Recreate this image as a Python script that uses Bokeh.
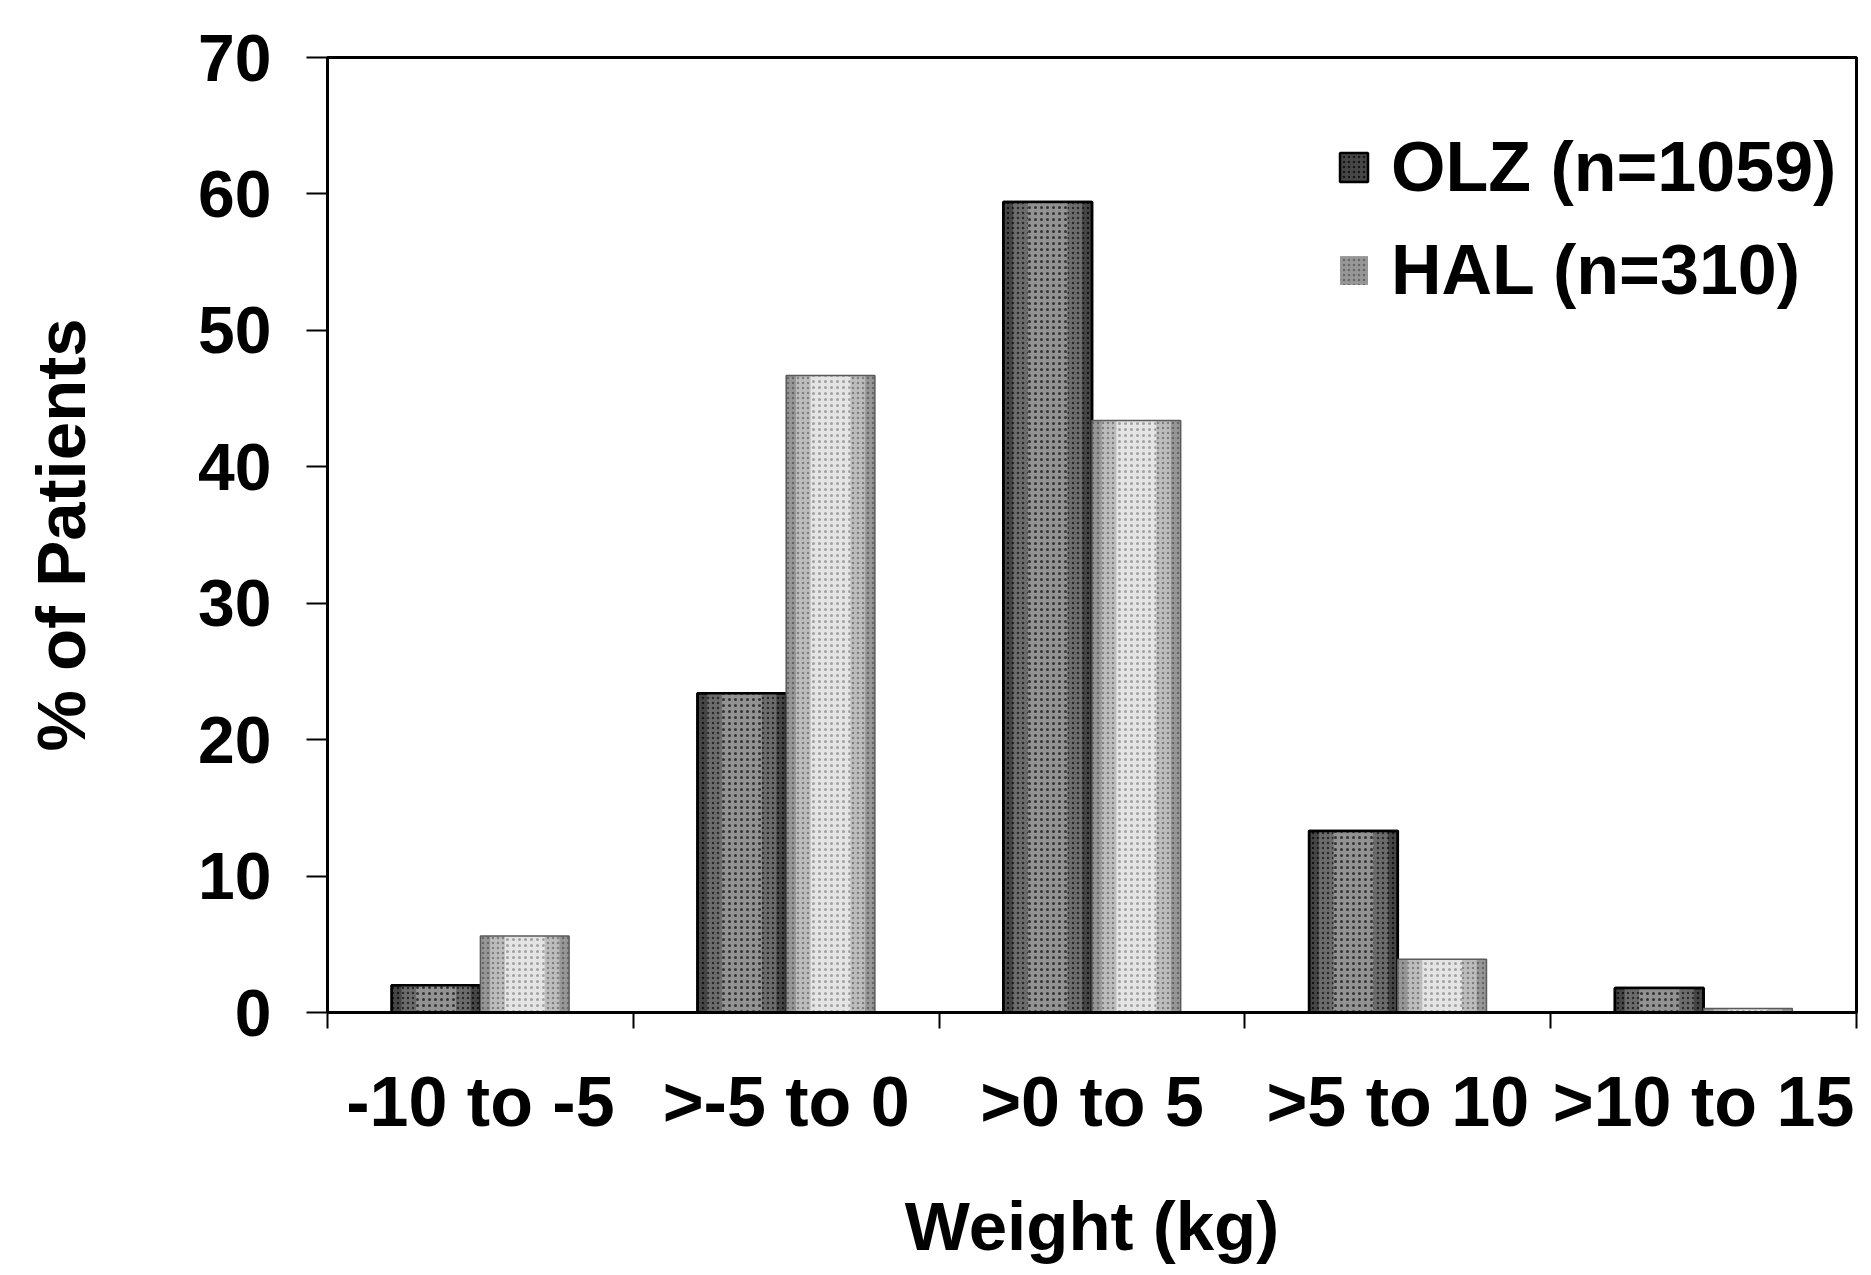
import numpy as np
from bokeh.plotting import figure
from bokeh.models import FixedTicker, Legend, LegendItem, ColumnDataSource, Range1d
from bokeh.embed import file_html
from bokeh.resources import INLINE

categories = ["-10 to -5", ">-5 to 0", ">0 to 5", ">5 to 10", ">10 to 15"]
olz = [2.0, 23.4, 59.4, 13.3, 1.8]
hal = [5.6, 46.7, 43.4, 3.9, 0.3]
y_ticks = [0, 10, 20, 30, 40, 50, 60, 70]
series_labels = ["OLZ (n=1059)", "HAL (n=310)"]
x_title = "Weight (kg)"
y_title = "% of Patients"

FONT = "Liberation Sans"

centers = np.arange(len(categories)) + 0.5
bar_w = 0.29
src = ColumnDataSource(dict(x_olz=centers - bar_w / 2, x_hal=centers + bar_w / 2,
                            olz=olz, hal=hal))

p = figure(frame_width=1529, frame_height=955, output_backend="svg", toolbar_location=None,
           x_range=Range1d(0, len(categories)), y_range=Range1d(0, 70),
           min_border_left=327, min_border_right=8, min_border_top=57, min_border_bottom=200,
           background_fill_color="white", border_fill_color="white")
p.xgrid.visible = False
p.ygrid.visible = False
p.outline_line_color = "black"
p.outline_line_width = 3

# OLZ bars: banded shading (dark edges, lighter centre) + outline
r_olz = p.vbar(x="x_olz", top="olz", width=bar_w, source=src, fill_color="#464646",
               hatch_pattern="dot", hatch_color="#151515", hatch_scale=5, hatch_weight=1.2,
               line_color="black", line_width=2.5)
p.vbar(x="x_olz", top="olz", width=bar_w * 0.78, source=src, fill_color="#6c6c6c",
       hatch_pattern="dot", hatch_color="#2a2a2a", hatch_scale=5, hatch_weight=1,
       line_color=None)
p.vbar(x="x_olz", top="olz", width=bar_w * 0.45, source=src, fill_color="#929292",
       hatch_pattern="dot", hatch_color="#333333", hatch_scale=6, hatch_weight=1,
       line_color=None)
p.vbar(x="x_olz", top="olz", width=bar_w, source=src, fill_color=None,
       line_color="black", line_width=2.5)

# HAL bars
r_hal = p.vbar(x="x_hal", top="hal", width=bar_w, source=src, fill_color="#979797",
               hatch_pattern="dot", hatch_color="#666666", hatch_scale=5, hatch_weight=1,
               line_color=None)
p.vbar(x="x_hal", top="hal", width=bar_w * 0.78, source=src, fill_color="#bdbdbd",
       hatch_pattern="dot", hatch_color="#808080", hatch_scale=5, hatch_weight=1,
       line_color=None)
p.vbar(x="x_hal", top="hal", width=bar_w * 0.45, source=src, fill_color="#e4e4e4",
       hatch_pattern="dot", hatch_color="#a0a0a0", hatch_scale=6, hatch_weight=1,
       line_color=None)
p.vbar(x="x_hal", top="hal", width=bar_w, source=src, fill_color=None,
       line_color="#5a5a5a", line_width=1.5)

# X axis
xa = p.xaxis[0]
xa.ticker = FixedTicker(ticks=list(centers), minor_ticks=list(range(len(categories) + 1)))
xa.major_label_overrides = {float(c): lab for c, lab in zip(centers, categories)}
xa.major_tick_out = 0
xa.major_tick_in = 0
xa.minor_tick_out = 16
xa.minor_tick_in = 0
xa.minor_tick_line_width = 2
xa.minor_tick_line_color = "black"
xa.axis_line_width = 3
xa.axis_line_color = "black"
xa.major_label_standoff = 34
xa.major_label_text_font = FONT
xa.major_label_text_font_style = "bold"
xa.major_label_text_font_size = "70px"
xa.major_label_text_color = "black"
xa.axis_label = x_title
xa.axis_label_text_font = FONT
xa.axis_label_text_font_style = "bold"
xa.axis_label_text_font_size = "69px"
xa.axis_label_text_color = "black"
xa.axis_label_standoff = 44

# Y axis
ya = p.yaxis[0]
ya.ticker = FixedTicker(ticks=y_ticks, minor_ticks=[])
ya.major_tick_out = 21
ya.major_tick_in = 0
ya.major_tick_line_width = 2
ya.axis_line_width = 3
ya.major_label_standoff = 35
ya.major_label_text_font = FONT
ya.major_label_text_font_style = "bold"
ya.major_label_text_font_size = "66px"
ya.major_label_text_color = "black"
ya.axis_label = y_title
ya.axis_label_text_font = FONT
ya.axis_label_text_font_style = "bold"
ya.axis_label_text_font_size = "69px"
ya.axis_label_text_color = "black"
ya.axis_label_standoff = 95

legend = Legend(items=[LegendItem(label=series_labels[0], renderers=[r_olz]),
                       LegendItem(label=series_labels[1], renderers=[r_hal])],
                padding=0, spacing=23,
                glyph_width=35, glyph_height=36, label_standoff=20,
                label_text_font=FONT, label_text_font_style="bold",
                label_text_font_size="70px", label_text_color="black",
                border_line_color=None, background_fill_alpha=0)
legend.margin = 0
legend.location = (1009, 702)
p.add_layout(legend)

open("out.html", "w").write(file_html(p, INLINE))
